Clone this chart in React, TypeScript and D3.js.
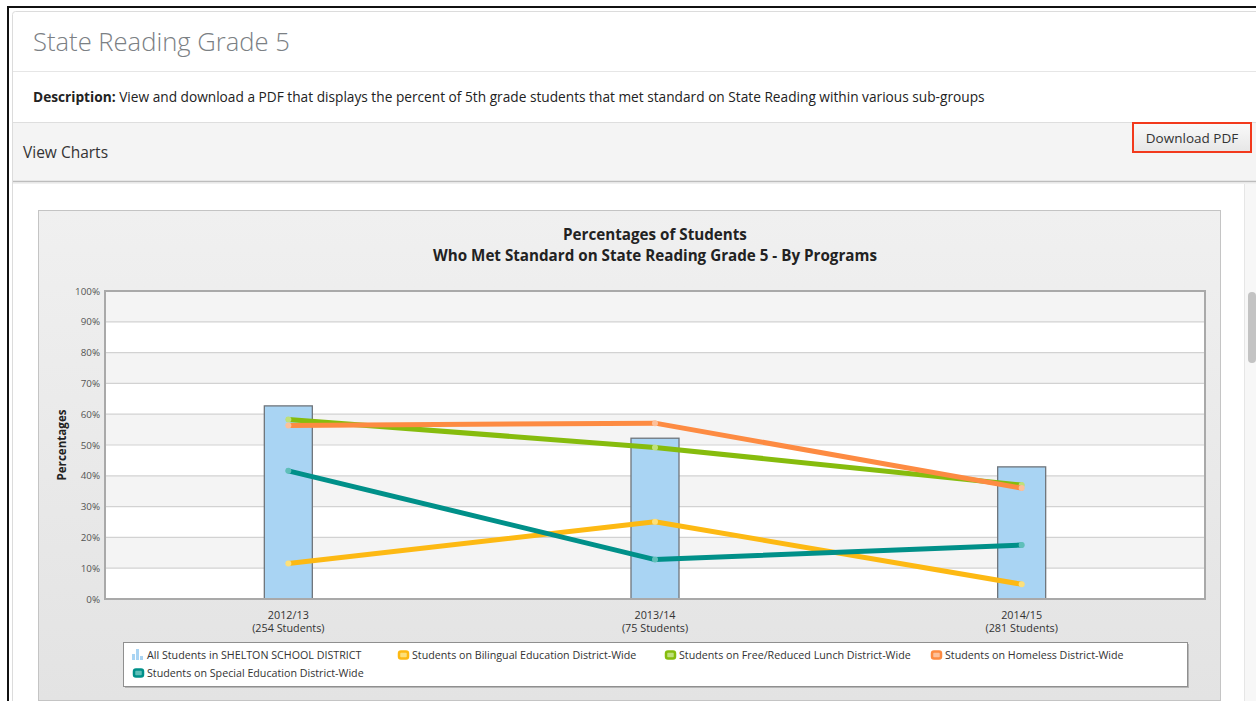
import React from 'react';
import * as d3 from 'd3';

// categories and values
const years = ['2012/13', '2013/14', '2014/15'];
const studentCounts = ['(254 Students)', '(75 Students)', '(281 Students)'];
const allStudents = [62.7, 52.2, 42.9];
const bilingual = [11.5, 25.1, 4.8];
const freeLunch = [58.3, 49.2, 37.0];
const homeless = [56.3, 57.1, 36.0];
const specialEd = [41.6, 12.8, 17.5];
const yTicks = [0, 10, 20, 30, 40, 50, 60, 70, 80, 90, 100];

const lineSeries = [
  { name: 'Students on Bilingual Education District-Wide', values: bilingual, color: '#fdb913', dot: '#fde07a' },
  { name: 'Students on Free/Reduced Lunch District-Wide', values: freeLunch, color: '#86bc0d', dot: '#bfe07a' },
  { name: 'Students on Homeless District-Wide', values: homeless, color: '#fd8b42', dot: '#fdc09a' },
  { name: 'Students on Special Education District-Wide', values: specialEd, color: '#009089', dot: '#5fbfb9' },
];
const barName = 'All Students in SHELTON SCHOOL DISTRICT';

const W = 1256;
const H = 701;
const FONT = '"Open Sans", "Noto Sans", sans-serif';

const plot = { left: 105, right: 1205, top: 291, bottom: 599 };

const App: React.FC = () => {
  const x = d3.scaleBand<string>().domain(years).range([plot.left, plot.right]).padding(0);
  const y = d3.scaleLinear().domain([0, 100]).range([plot.bottom, plot.top]);
  const cx = (d: string) => (x(d) ?? 0) + x.bandwidth() / 2;
  const barW = 48;

  const line = d3.line<number>()
    .x((_, i) => cx(years[i]))
    .y(v => y(v));

  // legend layout (row, column)
  const legendItems = [
    { name: barName, kind: 'bar', color: '#a9d4f3', col: 0, row: 0 },
    ...lineSeries.slice(0, 3).map((s, i) => ({ name: s.name, kind: 'line', color: s.color, fill: s.dot, col: i + 1, row: 0 })),
    { name: lineSeries[3].name, kind: 'line', color: lineSeries[3].color, fill: lineSeries[3].dot, col: 0, row: 1 },
  ];
  const legendText = [147, 412, 679, 945];
  const legendRows = [655, 673];

  return (
    <svg width={W} height={H} style={{ position: 'absolute', left: 0, top: 0, fontFamily: FONT }}>
      <defs>
        <linearGradient id="chartBg" x1="0" y1="0" x2="0" y2="1">
          <stop offset="0%" stopColor="#f0f0f0" />
          <stop offset="100%" stopColor="#e3e3e3" />
        </linearGradient>
        <linearGradient id="btnBg" x1="0" y1="0" x2="0" y2="1">
          <stop offset="0%" stopColor="#fafafa" />
          <stop offset="100%" stopColor="#e6e6e6" />
        </linearGradient>
      </defs>

      {/* page */}
      <rect x={0} y={0} width={W} height={H} fill="#ffffff" />
      <rect x={8} y={6} width={W - 8} height={2} fill="#111" />
      <rect x={7} y={6} width={2} height={H - 6} fill="#111" />

      {/* card */}
      <rect x={12.5} y={11.5} width={W} height={H} rx={3} fill="#fff" stroke="#dcdcdc" />
      <text x={33} y={51} fontSize={25.6} fontWeight={300} fill="#7b8084">State Reading Grade 5</text>
      <line x1={13} x2={W} y1={71.5} y2={71.5} stroke="#e6e6e6" />
      <text x={33} y={102} fontSize={13.7} fill="#222">
        <tspan fontWeight={700}>Description:</tspan>
        <tspan> View and download a PDF that displays the percent of 5th grade students that met standard on State Reading within various sub-groups</tspan>
      </text>

      {/* view charts bar */}
      <rect x={13} y={122} width={W} height={60} fill="#f4f4f4" />
      <line x1={13} x2={W} y1={122.5} y2={122.5} stroke="#dedede" />
      <line x1={13} x2={W} y1={181.5} y2={181.5} stroke="#bdbdbd" strokeWidth={1.5} />
      <line x1={13} x2={W} y1={183} y2={183} stroke="#e2e2e2" />
      <text x={23} y={158} fontSize={15.5} fill="#333">View Charts</text>

      <rect x={1133} y={123} width={118} height={29} fill="url(#btnBg)" stroke="#f2391c" strokeWidth={2} />
      <text x={1192} y={143} fontSize={13.5} fill="#333" textAnchor="middle">Download PDF</text>

      {/* scrollbar */}
      <rect x={1244} y={184} width={12} height={H - 184} fill="#f7f7f7" />
      <line x1={1244.5} x2={1244.5} y1={184} y2={H} stroke="#e6e6e6" />
      <rect x={1248} y={292} width={8} height={71} rx={4} fill="#c3c3c3" />

      {/* chart box */}
      <rect x={38.5} y={210.5} width={1182} height={490} fill="url(#chartBg)" stroke="#c4c4c4" />
      <text x={655} y={239.5} fontSize={15.2} fontWeight={700} fill="#222" textAnchor="middle">Percentages of Students</text>
      <text x={655} y={260.5} fontSize={15.2} fontWeight={700} fill="#222" textAnchor="middle">Who Met Standard on State Reading Grade 5 - By Programs</text>

      {/* plot bands */}
      <rect x={plot.left} y={plot.top} width={plot.right - plot.left} height={plot.bottom - plot.top} fill="#fff" />
      {yTicks.slice(0, -1).map((t, i) => (i % 2 === 1 ? (
        <rect key={'b' + t} x={plot.left} y={y(t + 10)} width={plot.right - plot.left} height={y(t) - y(t + 10)} fill="#f4f4f4" />
      ) : null))}
      {yTicks.map(t => (
        <g key={'t' + t}>
          <line x1={plot.left} x2={plot.right} y1={y(t)} y2={y(t)} stroke="#d2d2d2" strokeWidth={1.2} />
          <text x={100} y={y(t) + 3.5} fontSize={9.8} fill="#555" textAnchor="end">{t}%</text>
        </g>
      ))}

      {/* bars */}
      {allStudents.map((v, i) => (
        <rect key={'bar' + i} x={cx(years[i]) - barW / 2} y={y(v)} width={barW} height={y(0) - y(v)}
          fill="#a9d4f3" stroke="#6f757b" strokeWidth={1.3} />
      ))}

      {/* plot frame */}
      <rect x={plot.left} y={plot.top} width={plot.right - plot.left} height={plot.bottom - plot.top}
        fill="none" stroke="#a9a9a9" strokeWidth={2} />

      {/* lines */}
      {lineSeries.map(s => (
        <g key={s.name}>
          <path d={line(s.values) ?? ''} fill="none" stroke={s.color} strokeWidth={5} strokeLinejoin="round" strokeLinecap="round" />
          {s.values.map((v, i) => (
            <circle key={i} cx={cx(years[i])} cy={y(v)} r={3} fill={s.dot} />
          ))}
        </g>
      ))}

      {/* y axis title */}
      <text transform={`translate(66,${(plot.top + plot.bottom) / 2}) rotate(-90)`} fontSize={11.6} fontWeight={700}
        fill="#222" textAnchor="middle">Percentages</text>

      {/* x labels */}
      {years.map((yr, i) => (
        <g key={yr}>
          <text x={cx(yr)} y={619} fontSize={10.8} fill="#333" textAnchor="middle">{yr}</text>
          <text x={cx(yr)} y={632} fontSize={10.8} fill="#333" textAnchor="middle">{studentCounts[i]}</text>
        </g>
      ))}

      {/* legend */}
      <rect x={125} y={644} width={1064} height={44} fill="#8a8a8a" opacity={0.5} />
      <rect x={123.5} y={642.5} width={1064} height={44} fill="#fff" stroke="#8f8f8f" />
      {legendItems.map(it => {
        const tx = legendText[it.col];
        const ly = legendRows[it.row];
        const lx = tx - 14;
        return (
          <g key={it.name}>
            {it.kind === 'bar' ? (
              <g fill={it.color}>
                <rect x={lx - 1} y={ly - 1} width={3} height={6} />
                <rect x={lx + 3} y={ly - 6} width={3} height={11} />
                <rect x={lx + 7} y={ly + 1} width={3} height={4} />
              </g>
            ) : (
              <rect x={lx + 1} y={ly - 3.5} width={9} height={7} rx={2} fill={(it as any).fill}
                stroke={it.color} strokeWidth={2.5} />
            )}
            <text x={tx} y={ly + 3.8} fontSize={10.7} fill="#333">{it.name}</text>
          </g>
        );
      })}
    </svg>
  );
};

export default App;
